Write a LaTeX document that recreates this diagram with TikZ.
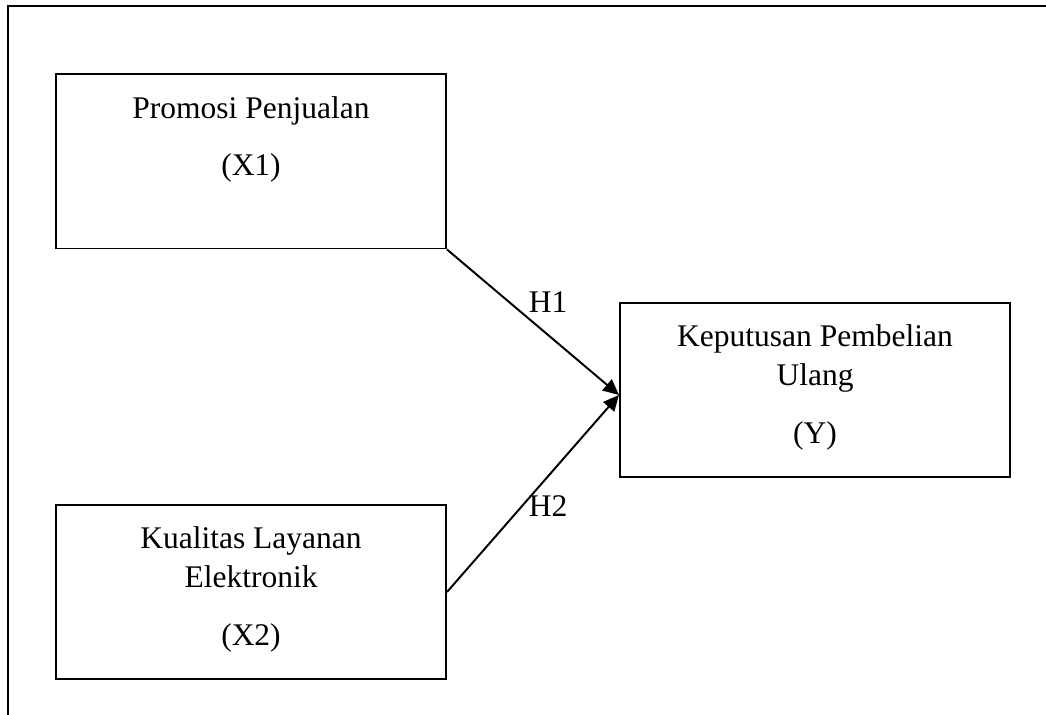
\documentclass[tikz,border=0pt]{standalone}
\usepackage{fontspec}
\setmainfont{Liberation Serif}
\usetikzlibrary{arrows.meta}

\begin{document}
\begin{tikzpicture}[x=0.381pt,y=-0.381pt,
        box/.style={draw,line width=0.75pt,minimum width=148.6pt,minimum height=66.3pt,inner sep=0pt},
        lbl/.style={align=center,inner sep=0pt,font=\fontsize{12}{14.9}\selectfont},
        hyp/.style={line width=0.75pt,-{Triangle[length=6pt,width=5.5pt]}}]
        \useasboundingbox (0,0) rectangle (1046,715);
        % frame
        \draw[line width=0.9pt] (8,715) -- (8,6) -- (1046,6);
        % variables
        \node[box] (x1) at (251,161.5) {};
        \node[box] (ky) at (815,390) {};
        \node[box] (x2) at (251,592) {};
        \node[lbl,anchor=north] (tx1) at ([yshift=-8.5pt]x1.north) {Promosi Penjualan\\[6.8pt](X1)};
        \node[lbl,anchor=north] (tky) at ([yshift=-8.5pt]ky.north) {Keputusan Pembelian\\Ulang\\[7.1pt](Y)};
        \node[lbl,anchor=north] (tx2) at ([yshift=-8.5pt]x2.north) {Kualitas Layanan\\Elektronik\\[7.1pt](X2)};
        % hypotheses
        \coordinate (tip) at (619,395);
        \draw[hyp] (x1.south east) -- (tip);
        \draw[hyp] (x2.east) -- (tip);
        \node[lbl,anchor=base] (h1) at (548,313) {H1};
        \node[lbl,anchor=base] (h2) at (548,517) {H2};
    \end{tikzpicture}
\end{document}
